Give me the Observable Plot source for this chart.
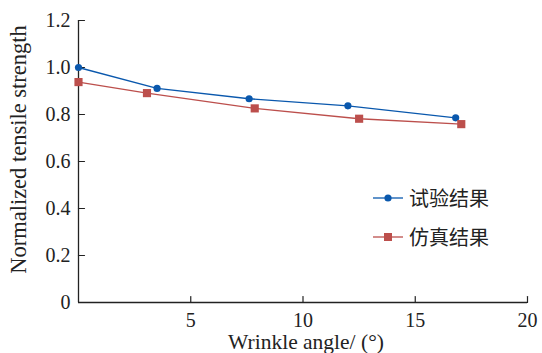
<!DOCTYPE html>
<html><head><meta charset="utf-8">
<script src="https://cdn.jsdelivr.net/npm/d3@7"></script>
<script src="https://cdn.jsdelivr.net/npm/@observablehq/plot@0.6"></script>
<style>
body{margin:0;background:#fff;}
#wrap{position:relative;width:542px;height:353px;}
#wrap svg text{font-family:"Liberation Serif","Noto Sans CJK SC",serif !important;}
#legend{position:absolute;left:373px;top:178px;font-family:"Liberation Serif","Noto Sans CJK SC",serif;font-size:20px;color:#222;}
.item{display:flex;align-items:center;height:39px;}
.item svg{margin-right:6px;}
</style></head>
<body><div id="wrap"></div>
<script>
const angleTest = [0, 3.5, 7.6, 12.0, 16.8];
const strengthTest = [1.0, 0.911, 0.867, 0.837, 0.786];
const angleSim = [0, 3.05, 7.85, 12.5, 17.05];
const strengthSim = [0.938, 0.891, 0.826, 0.782, 0.759];
const seriesNames = ["试验结果", "仿真结果"];
const xTicks = [5, 10, 15, 20];
const yTicks = [0, 0.2, 0.4, 0.6, 0.8, 1.0, 1.2];
const xLabel = "Wrinkle angle/ (°)";
const yLabel = "Normalized tensile strength";
const blue = "#0a58ad", red = "#bc4f4c";

const test = angleTest.map((a, i) => ({a, s: strengthTest[i]}));
const sim = angleSim.map((a, i) => ({a, s: strengthSim[i]}));
const tickShape = {draw(ctx, l) { ctx.moveTo(0, 0); ctx.lineTo(0, -l); }};
const serif = "Liberation Serif";

const chart = Plot.plot({
  width: 542, height: 353,
  marginLeft: 78, marginRight: 15, marginTop: 20, marginBottom: 51,
  style: {fontFamily: serif, fontSize: "20px", color: "#222", background: "#fff"},
  x: {domain: [0, 20]},
  y: {domain: [0, 1.2]},
  marks: [
    Plot.axisX(xTicks, {tickSize: 0, tickPadding: 10, fontSize: 20, label: null}),
    Plot.axisY(yTicks, {tickSize: 0, tickPadding: 8, fontSize: 20, tickFormat: d => d === 0 ? "0" : d.toFixed(1), label: null}),
    Plot.text([xLabel], {frameAnchor: "bottom", dx: 3, dy: 40, fontSize: 21.5, fill: "#222", lineAnchor: "middle", textAnchor: "middle"}),
    Plot.text([yLabel], {frameAnchor: "left", rotate: -90, dx: -60, dy: -12, fontSize: 22.5, fill: "#222", lineAnchor: "middle", textAnchor: "middle"}),
    Plot.vector(xTicks, {x: d => d, y: 0, length: 6, rotate: 0, anchor: "start", shape: tickShape, stroke: "#222", strokeWidth: 1.2}),
    Plot.vector(yTicks, {x: 0, y: d => d, length: 6, rotate: 90, anchor: "start", shape: tickShape, stroke: "#222", strokeWidth: 1.2}),
    Plot.ruleX([0], {stroke: "#222", strokeWidth: 1.3}),
    Plot.ruleY([0], {stroke: "#222", strokeWidth: 1.3}),
    Plot.line(test, {x: "a", y: "s", stroke: blue, strokeWidth: 1.3}),
    Plot.line(sim, {x: "a", y: "s", stroke: red, strokeWidth: 1.3}),
    Plot.dot(test, {x: "a", y: "s", r: 3.6, fill: blue, stroke: "none"}),
    Plot.dot(sim, {x: "a", y: "s", r: 4.6, symbol: "square", fill: red, stroke: "none"})
  ]
});
document.getElementById("wrap").appendChild(chart);

const legend = document.createElement("div");
legend.id = "legend";
[[seriesNames[0], blue, "circle"], [seriesNames[1], red, "square"]].forEach(([name, c, sym]) => {
  const item = document.createElement("div");
  item.className = "item";
  const marker = sym === "circle"
    ? `<circle cx="15" cy="7" r="3.6" fill="${c}"/>`
    : `<rect x="11" y="3" width="8" height="8" fill="${c}"/>`;
  item.innerHTML = `<svg width="30" height="14"><line x1="0" x2="30" y1="7" y2="7" stroke="${c}" stroke-width="1.3"/>${marker}</svg><span>${name}</span>`;
  legend.appendChild(item);
});
document.getElementById("wrap").appendChild(legend);
</script></body></html>
